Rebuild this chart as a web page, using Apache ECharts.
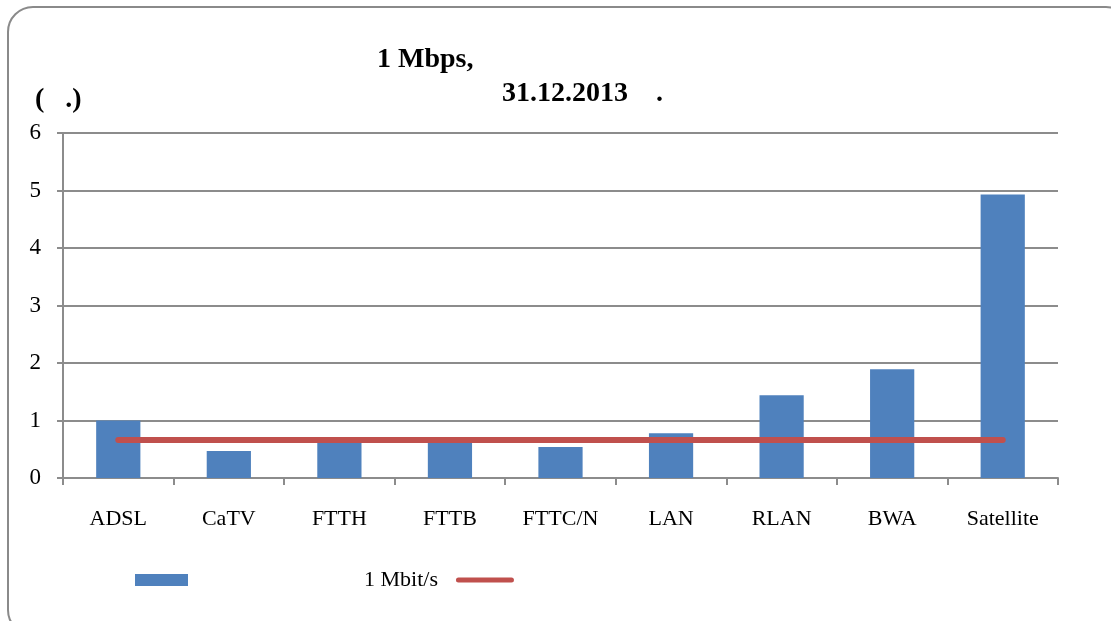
<!DOCTYPE html>
<html>
<head>
<meta charset="utf-8">
<script src="https://cdn.jsdelivr.net/npm/echarts@6/dist/echarts.min.js"></script>
<style>
  html, body { margin: 0; padding: 0; background: #fff; overflow: hidden; }
  #frame {
    position: absolute; left: 7px; top: 6px; width: 1125px; height: 630px;
    border: 2px solid #8a8a8a; border-radius: 26px; box-sizing: border-box;
  }
  #chart { position: absolute; left: 0; top: 0; width: 1111px; height: 621px; }
</style>
</head>
<body>
<div id="frame"></div>
<div id="chart"></div>
<script>
const categories = ['ADSL', 'CaTV', 'FTTH', 'FTTB', 'FTTC/N', 'LAN', 'RLAN', 'BWA', 'Satellite']
const speedValues = [1.0, 0.47, 0.68, 0.66, 0.54, 0.78, 1.44, 1.89, 4.93]
const averageValues = [0.66, 0.66, 0.66, 0.66, 0.66, 0.66, 0.66, 0.66, 0.66]
const yTicks = [0, 6, 1]

const chart = echarts.init(document.getElementById('chart'))
const serif = 'Liberation Serif'
const titleStyle = { fontFamily: serif, fontSize: 28, fontWeight: 'bold', color: '#000' }

chart.setOption({
  animation: false,
  textStyle: { fontFamily: serif, color: '#000' },
  title: [
    { text: '1 Mbps,', left: 372, top: 41, textStyle: titleStyle },
    { text: '31.12.2013    .', left: 497, top: 75, textStyle: titleStyle },
    { text: '(   .)', left: 30, top: 81, textStyle: titleStyle }
  ],
  grid: { left: 63, right: 53, top: 133, bottom: 143 },
  legend: {
    left: 135,
    top: 569,
    padding: 0,
    itemWidth: 53,
    itemHeight: 12,
    itemGap: 18,
    data: [
      { name: '1 Mbit/s', icon: 'rect' },
      {
        name: ' ',
        itemStyle: { color: 'transparent', borderWidth: 0 },
        lineStyle: { color: '#c0504d', width: 5, cap: 'round' }
      }
    ],
    formatter: name => name === '1 Mbit/s' ? '{p|}' + name : name,
    textStyle: {
      fontFamily: serif, fontSize: 22, color: '#000',
      rich: { p: { width: 171 } }
    }
  },
  xAxis: {
    type: 'category',
    data: categories,
    axisLine: { lineStyle: { color: '#8c8c8c', width: 2 } },
    axisTick: { show: true, length: 7, lineStyle: { color: '#8c8c8c', width: 2 } },
    axisLabel: { fontFamily: serif, fontSize: 22, color: '#000', margin: 30 }
  },
  yAxis: {
    type: 'value',
    min: yTicks[0],
    max: yTicks[1],
    interval: yTicks[2],
    axisLine: { show: true, lineStyle: { color: '#8c8c8c', width: 2 } },
    axisTick: { show: true, length: 6, lineStyle: { color: '#8c8c8c', width: 2 } },
    splitLine: { lineStyle: { color: '#8c8c8c', width: 2 } },
    axisLabel: { fontFamily: serif, fontSize: 23, color: '#000', margin: 22 }
  },
  series: [
    {
      name: '1 Mbit/s',
      type: 'bar',
      data: speedValues,
      barWidth: '40%',
      itemStyle: { color: '#4f81bd' }
    },
    {
      name: ' ',
      type: 'line',
      data: averageValues,
      symbol: 'none',
      lineStyle: { color: '#c0504d', width: 6, cap: 'round' },
      itemStyle: { color: '#c0504d' }
    }
  ]
})
</script>
</body>
</html>
